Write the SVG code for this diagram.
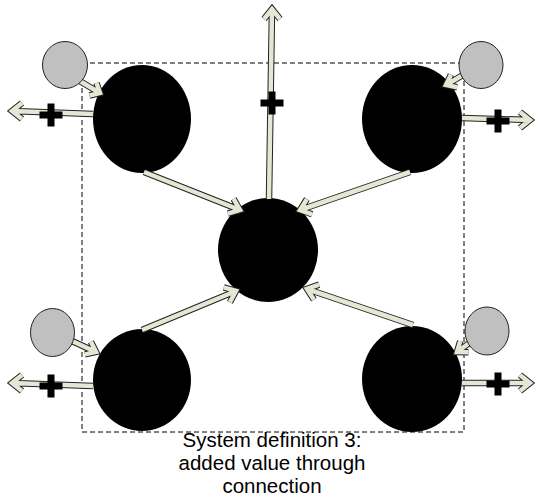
<svg xmlns="http://www.w3.org/2000/svg" width="536" height="504" viewBox="0 0 536 504">
  <style>
    .frame { fill: none; stroke: #000; stroke-width: 1; stroke-dasharray: 5 3; }
    .unit { fill: #000; }
    .source { fill: #c0c0c0; stroke: #222; stroke-width: 1; }
    .edge-o { fill: none; stroke: #222; stroke-width: 6.5; stroke-linejoin: miter; stroke-linecap: butt; }
    .edge-i { fill: none; stroke: #e6e6d4; stroke-width: 4.5; stroke-linejoin: miter; stroke-linecap: butt; }
    .plus { fill: #000; }
    .caption { font-family: "Liberation Sans", Arial, sans-serif; font-size: 20.5px; fill: #000; text-anchor: middle; }
  </style>

  <rect class="frame" x="82" y="63" width="382" height="369"/>

  <g id="node-top-left"><ellipse class="unit" cx="142" cy="119" rx="49" ry="54"/></g>
  <g id="node-top-right"><ellipse class="unit" cx="412" cy="119" rx="50" ry="54"/></g>
  <g id="node-center"><ellipse class="unit" cx="268" cy="250" rx="50" ry="52"/></g>
  <g id="node-bottom-left"><ellipse class="unit" cx="142" cy="380" rx="49" ry="51"/></g>
  <g id="node-bottom-right"><ellipse class="unit" cx="412" cy="379" rx="50" ry="53"/></g>

  <g id="connectors">
    <!-- outer units into the central unit -->
    <g>
      <path class="edge-o" d="M144,172 L240,210 M227.8,213.7 L240,210 L233.6,198.9"/>
      <path class="edge-i" d="M144,172 L240,210 M227.8,213.7 L240,210 L233.6,198.9"/>
    </g>
    <g>
      <path class="edge-o" d="M410,172 L300,210 M312.1,214.3 L300,210 L306.9,199.1"/>
      <path class="edge-i" d="M410,172 L300,210 M312.1,214.3 L300,210 L306.9,199.1"/>
    </g>
    <g>
      <path class="edge-o" d="M142,330 L236,291 M229.9,302.2 L236,291 L223.7,287.4"/>
      <path class="edge-i" d="M142,330 L236,291 M229.9,302.2 L236,291 L223.7,287.4"/>
    </g>
    <g>
      <path class="edge-o" d="M413,325 L307,289 M319.1,284.6 L307,289 L313.9,299.8"/>
      <path class="edge-i" d="M413,325 L307,289 M319.1,284.6 L307,289 L313.9,299.8"/>
    </g>
    <!-- outputs -->
    <g>
      <path class="edge-o" d="M269,199 L272,9 M264,19 L272,9 L280,19"/>
      <path class="edge-i" d="M269,199 L272,9 M264,19 L272,9 L280,19"/>
    </g>
    <g>
      <path class="edge-o" d="M93,114 L12,111 M22,103 L12,111 L22,119"/>
      <path class="edge-i" d="M93,114 L12,111 M22,103 L12,111 L22,119"/>
    </g>
    <g>
      <path class="edge-o" d="M462,118 L530,120 M520,112 L530,120 L520,128"/>
      <path class="edge-i" d="M462,118 L530,120 M520,112 L530,120 L520,128"/>
    </g>
    <g>
      <path class="edge-o" d="M93,386 L12,383 M22,375 L12,383 L22,391"/>
      <path class="edge-i" d="M93,386 L12,383 M22,375 L12,383 L22,391"/>
    </g>
    <g>
      <path class="edge-o" d="M462,383 L530,383 M520,375 L530,383 L520,391"/>
      <path class="edge-i" d="M462,383 L530,383 M520,375 L530,383 L520,391"/>
    </g>
    <!-- inputs from sources -->
    <g>
      <path class="edge-o" d="M78,80 L100,93 M89.5,95.5 L100,93 L96.5,83"/>
      <path class="edge-i" d="M78,80 L100,93 M89.5,95.5 L100,93 L96.5,83"/>
    </g>
    <g>
      <path class="edge-o" d="M468,72 L446,85 M457.1,87.3 L446,85 L450.9,74.7"/>
      <path class="edge-i" d="M468,72 L446,85 M457.1,87.3 L446,85 L450.9,74.7"/>
    </g>
    <g>
      <path class="edge-o" d="M72,341 L96,352 M84.9,354.4 L96,352 L90.9,341.8"/>
      <path class="edge-i" d="M72,341 L96,352 M84.9,354.4 L96,352 L90.9,341.8"/>
    </g>
    <g>
      <path class="edge-o" d="M472,341 L457,352 M468.4,352.3 L457,352 L460.2,341.1"/>
      <path class="edge-i" d="M472,341 L457,352 M468.4,352.3 L457,352 L460.2,341.1"/>
    </g>
    <!-- plus marks on the outputs -->
    <g class="plus">
      <rect x="260.5" y="99.5" width="23" height="7"/><rect x="268.5" y="91.5" width="7" height="23"/>
      <rect x="39.5" y="111.5" width="23" height="7"/><rect x="47.5" y="103.5" width="7" height="23"/>
      <rect x="486.5" y="117.5" width="23" height="7"/><rect x="494.5" y="109.5" width="7" height="23"/>
      <rect x="39.5" y="382.5" width="23" height="7"/><rect x="47.5" y="374.5" width="7" height="23"/>
      <rect x="486.5" y="380.5" width="23" height="7"/><rect x="494.5" y="372.5" width="7" height="23"/>
    </g>
  </g>

  <g id="source-top-left"><ellipse class="source" cx="65" cy="65" rx="22.5" ry="23.5"/></g>
  <g id="source-top-right"><ellipse class="source" cx="481" cy="65" rx="22" ry="23.5"/></g>
  <g id="source-bottom-left"><ellipse class="source" cx="52.5" cy="332.5" rx="22" ry="24"/></g>
  <g id="source-bottom-right"><ellipse class="source" cx="487" cy="331" rx="22" ry="24"/></g>

  <g id="caption">
    <text class="caption" x="272" y="447">System definition 3:</text>
    <text class="caption" x="272" y="470">added value through</text>
    <text class="caption" x="272" y="493">connection</text>
  </g>
</svg>
